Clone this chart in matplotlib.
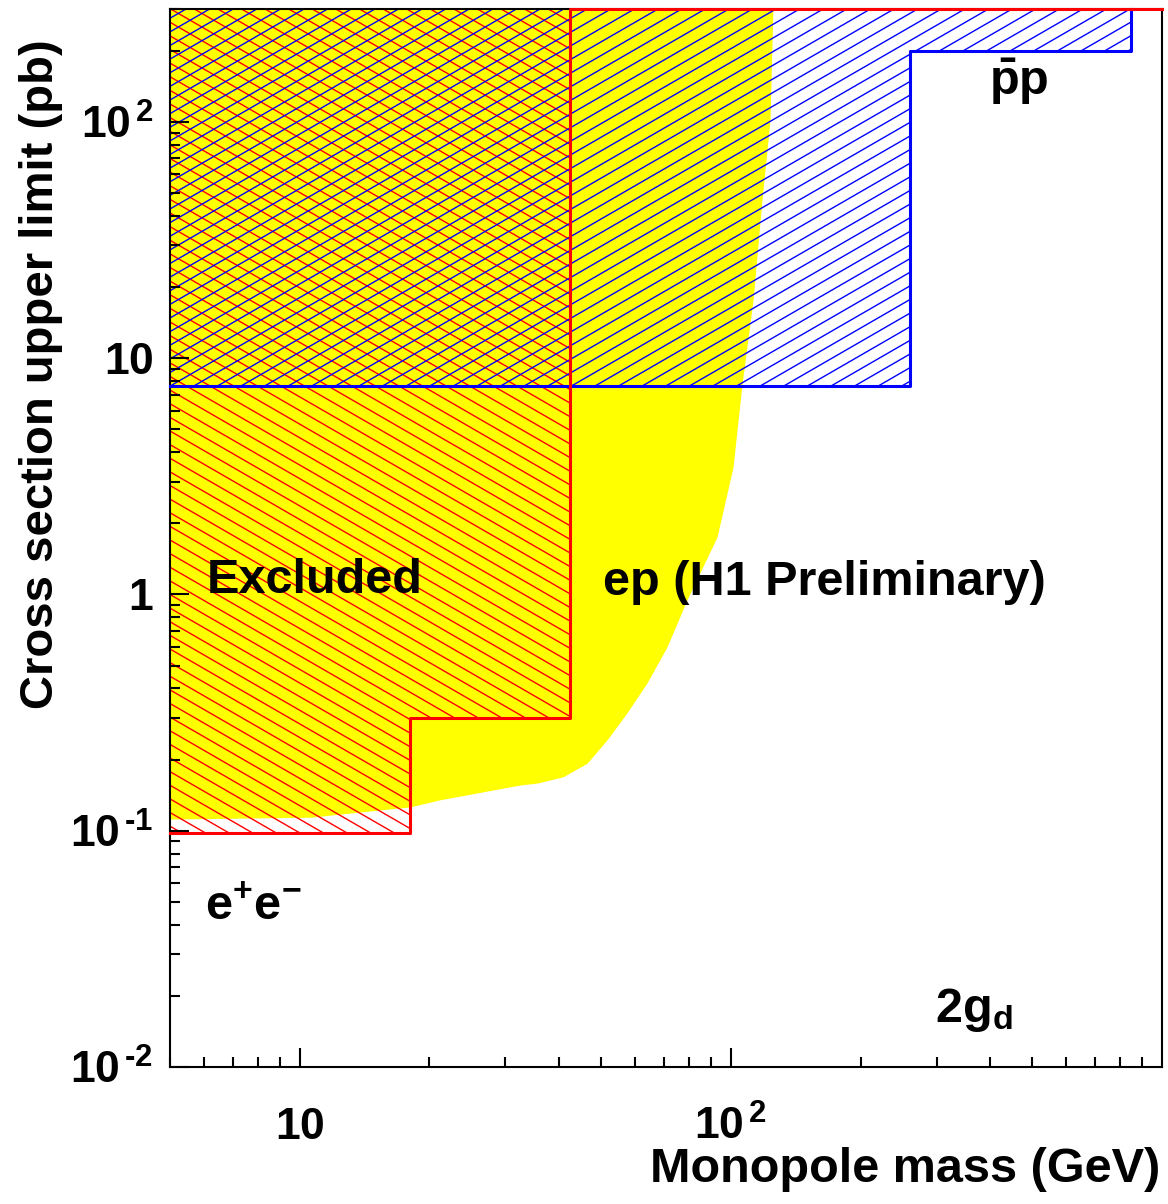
import numpy as np
import matplotlib
matplotlib.use("Agg")
import matplotlib.pyplot as plt
from matplotlib.patches import Polygon
from matplotlib.collections import LineCollection
from matplotlib.ticker import NullFormatter

plt.rcParams.update({
    "font.family": ["Liberation Sans", "DejaVu Sans"],
    "font.weight": "bold",
    "axes.labelweight": "bold",
    "mathtext.fontset": "custom",
    "mathtext.rm": "Liberation Sans:bold",
    "mathtext.it": "Liberation Sans:bold",
    "mathtext.bf": "Liberation Sans:bold",
    "mathtext.sf": "Liberation Sans:bold",
    "mathtext.default": "rm",
})

# axis ranges
mass_min, mass_max = 5, 1000
xs_min, xs_max = 0.01, 300

# e+e- limit (histogram bins)
ee_edges = [5, 18, 42.3, 1000]
ee_limit = [0.098, 0.30, 300]

# pbar-p limit (histogram bins)
pp_edges = [5, 260, 847]
pp_limit = [7.6, 200]

# ep (H1 preliminary) limit curve
ep_mass = [5.0, 10.6, 13.8, 18.0, 21.1, 32.4, 35.5, 40.8, 46.4, 51.6, 57.4,
           63.9, 71.1, 79.1, 92.9, 101.2, 106.1, 112.6, 118.1, 123.3, 125.2]
ep_limit = [0.112, 0.114, 0.120, 0.126, 0.135, 0.156, 0.159, 0.169, 0.193,
            0.242, 0.315, 0.422, 0.599, 0.947, 1.75, 3.46, 7.69, 17.6, 46.7,
            101.8, 300]

x_ticks = [10, 100]
x_tick_labels = [r"$10$", r"$10^{\,2}$"]
y_ticks = [0.01, 0.1, 1, 10, 100]
y_tick_labels = ["$10^{\\,\u20102}$", "$10^{\\,\u20101}$", r"$1$", r"$10$",
                 r"$10^{\,2}$"]


def step_xy(edges, values, top):
    xs, ys = [], []
    for i, v in enumerate(values):
        xs += [edges[i], edges[i + 1]]
        ys += [v, v]
    xs.append(edges[-1])
    ys.append(top)
    return xs, ys


def hatch(ax, region, angle, color, spacing=11.8, lw=1.0):
    # parallel lines in pixel space, clipped to the region
    bb = ax.get_window_extent()
    w, h = bb.width, bb.height
    th = np.deg2rad(angle)
    u = np.array([np.cos(th), np.sin(th)])
    n = np.array([-np.sin(th), np.cos(th)])
    c = np.array([[0, 0], [w, 0], [0, h], [w, h]]) @ n
    L = w + h
    segs = []
    for k in np.arange(c.min(), c.max() + spacing, spacing):
        a = k * n - L * u
        b = k * n + L * u
        segs.append([(a[0] / w, a[1] / h), (b[0] / w, b[1] / h)])
    lc = LineCollection(segs, colors=color, linewidths=lw,
                        transform=ax.transAxes, zorder=1.5)
    ax.add_collection(lc, autolim=False)
    lc.set_clip_path(region)


fig = plt.figure(figsize=(11.68, 12.04), dpi=100)
ax = fig.add_axes([0.1455, 0.1138, 0.8493, 0.8787])
ax.set_xscale("log")
ax.set_yscale("log")

# --- ep yellow band ---
ax.fill_between(ep_mass, ep_limit, xs_max, color="#ffff00", lw=0, zorder=1)

# --- e+e- (red) ---
ee_x, ee_y = step_xy(ee_edges, ee_limit, xs_max)
ee_reg = Polygon(list(zip(ee_x + [ee_edges[0]], ee_y + [xs_max])),
                 closed=True, facecolor="none", edgecolor="none")
ax.add_patch(ee_reg)
hatch(ax, ee_reg, 150, "#ff0000")

# --- pbar-p (blue) ---
pp_x, pp_y = step_xy(pp_edges, pp_limit, xs_max)
pp_reg = Polygon(list(zip(pp_x + [pp_edges[0]], pp_y + [xs_max])),
                 closed=True, facecolor="none", edgecolor="none")
ax.add_patch(pp_reg)
hatch(ax, pp_reg, 30, "#0000ff")

ax.plot(pp_x, pp_y, color="#0000ff", lw=2.2, zorder=3, clip_on=False)
ax.plot(ee_x, ee_y, color="#ff0000", lw=2.2, zorder=3, clip_on=False)

ax.set_xlim(mass_min, mass_max)
ax.set_ylim(xs_min, xs_max)

# --- axes styling ---
for s in ax.spines.values():
    s.set_linewidth(1.5)
ax.tick_params(which="major", direction="in", length=14, width=1.5,
               top=False, right=False, labelsize=32)
ax.tick_params(which="minor", direction="in", length=7, width=1.5,
               top=False, right=False)
ax.tick_params(axis="x", which="major", pad=52)
ax.tick_params(axis="y", which="major", pad=12)
ax.set_xticks(x_ticks, x_tick_labels)
ax.set_yticks(y_ticks, y_tick_labels)
ax.xaxis.set_minor_formatter(NullFormatter())
ax.yaxis.set_minor_formatter(NullFormatter())
for t in ax.get_xticklabels():
    t.set_va("baseline")

ax.set_xlabel("Monopole mass (GeV)", fontsize=35, loc="right")
ax.xaxis.set_label_coords(0.998, -0.076)
ax.set_ylabel("Cross section upper limit (pb)", fontsize=34, loc="top")
ax.yaxis.set_label_coords(-0.108, 0.971)

# --- labels ---
ax.text(0.0373, 0.448, "Excluded", transform=ax.transAxes, fontsize=35,
        va="baseline", zorder=4)
ax.text(0.4365, 0.446, "ep (H1 Preliminary)", transform=ax.transAxes,
        fontsize=35, va="baseline", zorder=4)
ax.text(0.826, 0.9187, r"$\bar{p}p$", transform=ax.transAxes, fontsize=35,
        va="baseline", zorder=4)
ax.text(0.035, 0.139, r"$e^{+}e^{-}$", transform=ax.transAxes, fontsize=35,
        va="baseline", zorder=4)
ax.text(0.771, 0.0425, r"$2g_{d}$", transform=ax.transAxes, fontsize=35,
        va="baseline", zorder=4)

fig.savefig("out.png", dpi=100)
